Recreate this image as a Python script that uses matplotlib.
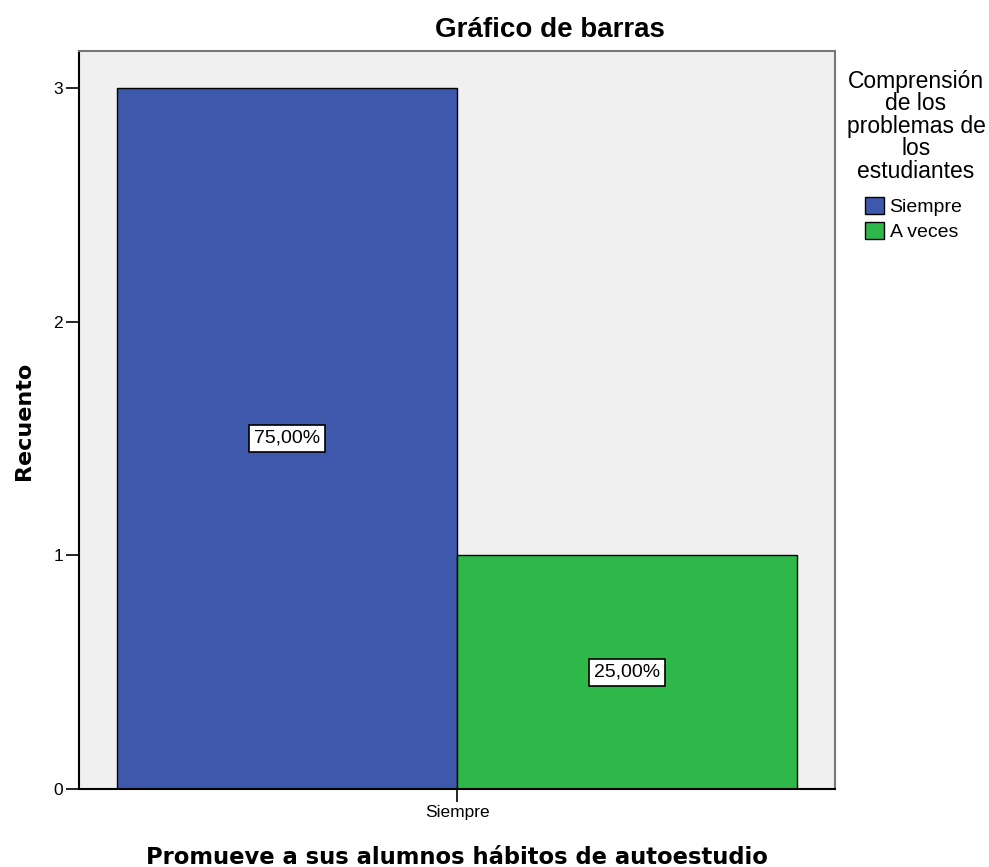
import matplotlib
matplotlib.use("Agg")
import matplotlib.pyplot as plt
from matplotlib.patches import Patch

categories = ["Siempre"]
series_names = ["Siempre", "A veces"]
counts = [3, 1]
pct_labels = ["75,00%", "25,00%"]
colors = ["#3E58AC", "#2EB84A"]
yticks = [0, 1, 2, 3]
legend_title = "Comprensión\nde los\nproblemas de\nlos\nestudiantes"

plt.rcParams['font.family'] = ['Liberation Sans', 'DejaVu Sans']

fig = plt.figure(figsize=(9.89, 8.67), dpi=100)
ax = fig.add_axes([79/989, 1-789/867, (835-79)/989, (789-51)/867])
ax.set_facecolor("#F0F0F0")

offsets = [-0.5, 0.5]
for i, (name, c, col, lab) in enumerate(zip(series_names, counts, colors, pct_labels)):
    ax.bar(offsets[i], c, width=1.0, color=col, edgecolor="black", linewidth=1.0, zorder=2)
    ax.text(offsets[i], c/2, lab, ha="center", va="center", fontsize=14,
            bbox=dict(boxstyle="square,pad=0.25", facecolor="white", edgecolor="black", linewidth=1.2),
            zorder=3)

ax.set_xlim(-1.112, 1.112)
ax.set_ylim(0, 3.158)
ax.set_xticks([0])
ax.set_xticklabels(categories, fontsize=12.5)
ax.set_yticks(yticks)
ax.set_yticklabels([str(t) for t in yticks], fontsize=12.5)
ax.tick_params(axis="both", length=9.5, width=1.2, color="black", pad=2)
for s in ["left", "bottom"]:
    ax.spines[s].set_color("black")
    ax.spines[s].set_linewidth(1.5)
for s in ["top", "right"]:
    ax.spines[s].set_color("#777777")
    ax.spines[s].set_linewidth(1.5)

fig.text(24/989, 1-421/867, "Recuento", rotation=90, ha="center", va="center",
         fontsize=16, fontweight="bold", family="DejaVu Sans")
fig.text(457/989, 1-857/867, "Promueve a sus alumnos hábitos de autoestudio", ha="center", va="center",
         fontsize=16.3, fontweight="bold", family="DejaVu Sans")

fig.text(550/989, 1-30/867, "Gráfico de barras", ha="center", va="center", fontsize=20, fontweight="bold")

fig.text(916/989, 1-70/867, legend_title, ha="center", va="top", multialignment="center",
         fontsize=16.5, linespacing=0.97)

handles = [Patch(facecolor=col, edgecolor="black", label=n) for n, col in zip(series_names, colors)]
leg = fig.legend(handles=handles, loc="upper left", bbox_to_anchor=(865/989, 1-197/867),
                 frameon=False, fontsize=14, borderpad=0, borderaxespad=0,
                 handlelength=1.0, handleheight=1.0, handletextpad=0.26, labelspacing=0.29)

fig.savefig("out.png", dpi=100)
